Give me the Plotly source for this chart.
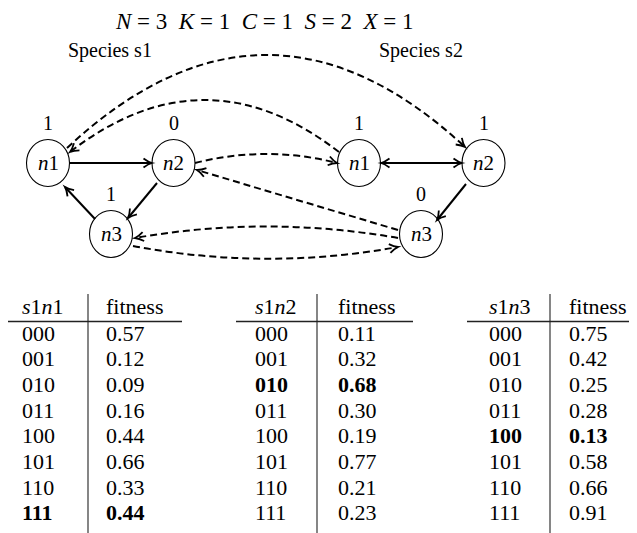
import math
import plotly.graph_objects as go

# ---------------- data ----------------
params = [("N", 3), ("K", 1), ("C", 1), ("S", 2), ("X", 1)]
species = ["s1", "s2"]
node_names = ["n1", "n2", "n3"]
node_states_s1 = [1, 0, 1]
node_states_s2 = [1, 1, 0]
genotypes = ["000", "001", "010", "011", "100", "101", "110", "111"]
fitness_s1n1 = [0.57, 0.12, 0.09, 0.16, 0.44, 0.66, 0.33, 0.44]
fitness_s1n2 = [0.11, 0.32, 0.68, 0.30, 0.19, 0.77, 0.21, 0.23]
fitness_s1n3 = [0.75, 0.42, 0.25, 0.28, 0.13, 0.58, 0.66, 0.91]
highlight_row = {"s1n1": 7, "s1n2": 2, "s1n3": 4}

# ---------------- layout (positions) ----------------
W, H = 637, 533
PAGE_OFF = 8  # browser body margin
FONT = "Liberation Serif"
FS = 20
TFS = 22
node_pos = {
    "s1n1": (48, 163), "s1n2": (173.5, 163), "s1n3": (111, 234),
    "s2n1": (359, 163), "s2n2": (483.5, 163), "s2n3": (421, 234),
}
RX, RY = 21.5, 23.5

fig = go.Figure()
shapes = []
annotations = []
LW = 2.0


def ann(x, y, text, size=FS, xanchor="center", yanchor="middle"):
    annotations.append(dict(x=x, y=y, xref="x", yref="y", text=text, showarrow=False,
                            font=dict(family=FONT, size=size, color="black"),
                            xanchor=xanchor, yanchor=yanchor))


def head(tip, d):
    dx, dy = d
    n = math.hypot(dx, dy)
    dx, dy = dx / n, dy / n
    L, hw = 8.5, 4.5
    bx, by = tip[0] - dx * L, tip[1] - dy * L
    px, py = -dy, dx
    p1 = (bx + px * hw, by + py * hw)
    p2 = (bx - px * hw, by - py * hw)
    cx, cy = tip[0] - dx * L * 0.45, tip[1] - dy * L * 0.45
    path = (f"M {p1[0]:.2f},{p1[1]:.2f} Q {cx + px*1.0:.2f},{cy + py*1.0:.2f} {tip[0]:.2f},{tip[1]:.2f} "
            f"Q {cx - px*1.0:.2f},{cy - py*1.0:.2f} {p2[0]:.2f},{p2[1]:.2f}")
    shapes.append(dict(type="path", path=path, xref="x", yref="y",
                       line=dict(color="black", width=1.8)))


def straight(p0, p1, both=False):
    shapes.append(dict(type="line", x0=p0[0], y0=p0[1], x1=p1[0], y1=p1[1], xref="x", yref="y",
                       line=dict(color="black", width=LW)))
    head(p1, (p1[0] - p0[0], p1[1] - p0[1]))
    if both:
        head(p0, (p0[0] - p1[0], p0[1] - p1[1]))


def dashed(p0, c, p1):
    path = f"M {p0[0]},{p0[1]} Q {c[0]},{c[1]} {p1[0]},{p1[1]}"
    shapes.append(dict(type="path", path=path, xref="x", yref="y",
                       line=dict(color="black", width=LW, dash="7px,4px")))
    head(p1, (p1[0] - c[0], p1[1] - c[1]))


# title
title = "&nbsp;&nbsp;".join(f"<i>{k}</i> = {v}" for k, v in params)
ann(264, 21, title, size=23)
ann(110, 50, "Species " + species[0])
ann(421, 50, "Species " + species[1])

# nodes
for sp, states in ((species[0], node_states_s1), (species[1], node_states_s2)):
    for nm, st in zip(node_names, states):
        key = sp + nm
        cx, cy = node_pos[key]
        shapes.append(dict(type="circle", xref="x", yref="y", x0=cx - RX, x1=cx + RX,
                           y0=cy - RY, y1=cy + RY, line=dict(color="black", width=1.1)))
        ann(cx, cy, f"<i>{nm[0]}</i>{nm[1]}", size=21)
        ann(cx, cy - 40, str(st))

# solid edges
straight((70, 163), (152, 163))
straight((157, 183), (128, 218))
straight((95, 219), (65, 187))
straight((381, 163), (462, 163), both=True)
straight((466, 184), (437, 220))

# dashed coupling edges
dashed((67, 148), (266, -37.5), (465, 147))
dashed((339, 152), (204.5, 48), (70, 152))
dashed((195, 163), (266, 145), (337, 163))
dashed((398, 230), (297, 200), (197, 170))
dashed((398, 238), (266.5, 215), (135, 238))
dashed((133, 246), (266, 271), (398, 247))

# tables
tables = [
    ("s1n1", fitness_s1n1, 20, 104, 88, 4, 182),
    ("s1n2", fitness_s1n2, 253, 336, 317, 236, 413),
    ("s1n3", fitness_s1n3, 487, 567, 550, 467, 637),
]
HEAD_Y = 306
LINE_Y = 321.5
ROW0 = 333
STEP = 25.7
for name, vals, c1, c2, vx, hx0, hx1 in tables:
    ann(c1, HEAD_Y, f"<i>{name[0]}</i>{name[1]}<i>{name[2]}</i>{name[3]}", size=TFS, xanchor="left")
    ann(c2, HEAD_Y, "fitness", size=TFS, xanchor="left")
    shapes.append(dict(type="line", xref="x", yref="y", x0=hx0, x1=hx1, y0=LINE_Y, y1=LINE_Y,
                       line=dict(color="#222", width=1.3)))
    shapes.append(dict(type="line", xref="x", yref="y", x0=vx, x1=vx, y0=294, y1=533,
                       line=dict(color="#222", width=1.1)))
    for i, (g, v) in enumerate(zip(genotypes, vals)):
        y = ROW0 + STEP * i
        txt_g, txt_v = g, f"{v:.2f}"
        if highlight_row[name] == i:
            txt_g, txt_v = f"<b>{txt_g}</b>", f"<b>{txt_v}</b>"
        ann(c1, y, txt_g, size=TFS, xanchor="left")
        ann(c2, y, txt_v, size=TFS, xanchor="left")

fig.update_layout(
    width=W - PAGE_OFF, height=H - PAGE_OFF, margin=dict(l=0, r=0, t=0, b=0),
    paper_bgcolor="white", plot_bgcolor="white",
    font=dict(family=FONT, size=FS, color="black"),
    xaxis=dict(range=[PAGE_OFF, W], visible=False, fixedrange=True),
    yaxis=dict(range=[H, PAGE_OFF], visible=False, fixedrange=True),
    shapes=shapes, annotations=annotations, showlegend=False,
)
fig.write_html("out.html")
